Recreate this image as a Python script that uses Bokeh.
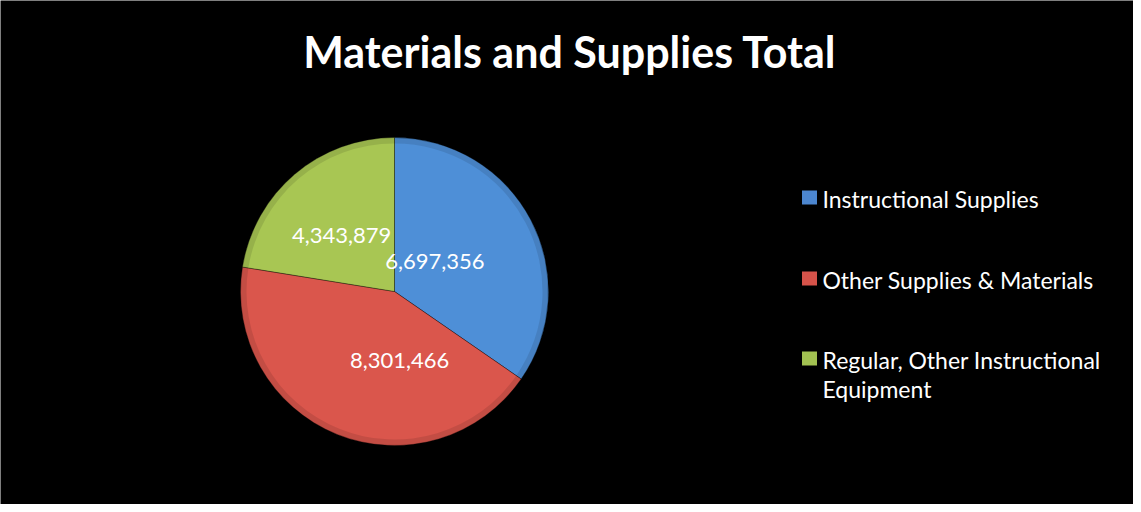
import math
import textwrap
from bokeh.plotting import figure
from bokeh.models import Range1d, ColumnDataSource
from bokeh.core.properties import value
from bokeh.embed import file_html
from bokeh.resources import INLINE

# ---- data ----
title = "Materials and Supplies Total"
categories = ["Instructional Supplies", "Other Supplies & Materials",
              "Regular, Other Instructional Equipment"]
values = [6697356, 8301466, 4343879]

# ---- style ----
slice_colors = ["#4E8FD7", "#DA564C", "#A8C653"]
swatch_colors = ["#4C86CF", "#D6534A", "#A2C151"]
FONT = "Lato"
W, H = 1133, 504

p = figure(width=W, height=H, output_backend="svg", toolbar_location=None,
           x_range=Range1d(0, W), y_range=Range1d(0, H), min_border=0)
p.axis.visible = False
p.grid.visible = False
p.outline_line_color = None
p.background_fill_color = "black"
p.border_fill_color = "black"

# pie geometry (canvas pixels, y up)
cx, cy, r = 394, 213, 154

total = float(sum(values))
fracs = [v / total for v in values]
cum = [0.0]
for f in fracs:
    cum.append(cum[-1] + f)
starts = [math.pi / 2 - 2 * math.pi * cum[i] for i in range(len(values))]
ends = [math.pi / 2 - 2 * math.pi * cum[i + 1] for i in range(len(values))]
mids = [(s + e) / 2 for s, e in zip(starts, ends)]

src = ColumnDataSource(dict(start=starts, end=ends, color=slice_colors))
p.wedge(x=cx, y=cy, radius=r, start_angle="start", end_angle="end",
        direction="clock", fill_color="color", line_color="#000000",
        line_alpha=0.35, line_width=1, source=src)
# subtle bevel shading near the rim
p.annular_wedge(x=cx, y=cy, inner_radius=r - 6, outer_radius=r,
                start_angle="start", end_angle="end", direction="clock",
                fill_color="black", fill_alpha=0.10, line_color=None, source=src)

# data labels
nudges = [(-21, -2), (31, -5), (-8, 3)]
lx = [cx + 0.45 * r * math.cos(m) + n[0] for m, n in zip(mids, nudges)]
ly = [cy + 0.45 * r * math.sin(m) + n[1] for m, n in zip(mids, nudges)]
labels = ["{:,}".format(v) for v in values]
p.text(x=lx, y=ly, text=labels, text_color="white", text_font=value(FONT),
       text_font_size="22px", text_align="center", text_baseline="middle")

# title
p.text(x=[W / 2 + 3], y=[H - 51], text=[title], text_color="white",
       text_font=value(FONT), text_font_size="43px", text_font_style="bold",
       text_align="center", text_baseline="middle")

# legend
row_y = [H - 198, H - 279, H - 359]
sw_x = 809
p.rect(x=[sw_x] * 3, y=[y + 1 for y in row_y], width=15, height=14,
       fill_color=swatch_colors, line_color=None)
tx, ty = [], []
for cat, y in zip(categories, row_y):
    for k, line in enumerate(textwrap.wrap(cat, width=28)):
        tx.append(line)
        ty.append(y - 29 * k)
p.text(x=[822] * len(tx), y=ty, text=tx, text_color="white",
       text_font=value(FONT), text_font_size="23px", text_align="left",
       text_baseline="middle")

open("out.html", "w").write(file_html(p, INLINE))
